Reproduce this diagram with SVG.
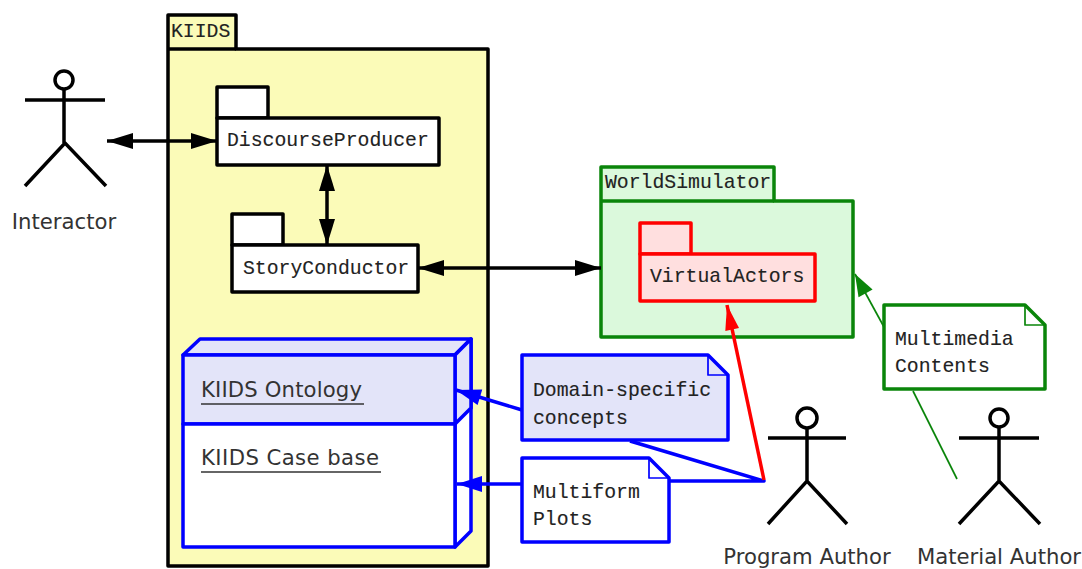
<svg xmlns="http://www.w3.org/2000/svg" width="1082" height="569" viewBox="0 0 1082 569">
<style>
.blk{stroke:#000;stroke-width:3.5;stroke-linejoin:round}
.grn{stroke:#0a850a;stroke-width:3.5;stroke-linejoin:round}
.red{stroke:#f00;stroke-width:3.5;stroke-linejoin:round}
.blu{stroke:#00f;stroke-width:3.5;stroke-linejoin:round}
.thin{stroke-width:1.7}
.mono{font-family:"Liberation Mono",monospace;font-size:19.8px;fill:#222;stroke:#222;stroke-width:.12}
.sans{font-family:"DejaVu Sans",sans-serif;font-size:21.2px;fill:#333}
.c{text-anchor:middle}
.actor{fill:none;stroke:#000;stroke-width:3.5}
</style>
<defs>
<marker id="ab" markerUnits="userSpaceOnUse" markerWidth="28" markerHeight="18" refX="27" refY="9" orient="auto-start-reverse"><path d="M27,9 L1,1 V17 Z" fill="#000"/></marker>
<marker id="ar" markerUnits="userSpaceOnUse" markerWidth="28" markerHeight="18" refX="27" refY="9" orient="auto"><path d="M27,9 L2,2 V16 Z" fill="#f00"/></marker>
<marker id="au" markerUnits="userSpaceOnUse" markerWidth="28" markerHeight="18" refX="27" refY="9" orient="auto"><path d="M27,9 L2,1 V17 Z" fill="#00f"/></marker>
<marker id="ag" markerUnits="userSpaceOnUse" markerWidth="28" markerHeight="18" refX="27" refY="9" orient="auto"><path d="M27,9 L5,1 V17 Z" fill="#0a850a"/></marker>
</defs>
<g id="KIIDS">
<path class="blk" fill="#fbfbb8" d="M168,49 V15 H236 V49 H488 V566 H168 Z"/>
<path class="blk" fill="none" d="M168,49 H236"/>
<text class="mono" x="171" y="37">KIIDS</text>
</g>
<g id="WorldSimulator">
<path class="grn" fill="#dbf9dc" d="M601,201 V167 H774 V201 H853 V337 H601 Z"/>
<path class="grn" fill="none" d="M601,201 H774"/>
<text class="mono" x="605" y="188">WorldSimulator</text>
</g>
<g id="DiscourseProducer">
<rect class="blk" fill="#fff" x="217" y="87" width="51" height="31"/>
<rect class="blk" fill="#fff" x="217" y="118" width="222" height="47"/>
<text class="mono" x="227" y="146">DiscourseProducer</text>
</g>
<g id="StoryConductor">
<rect class="blk" fill="#fff" x="232" y="214" width="51" height="31"/>
<rect class="blk" fill="#fff" x="232" y="245" width="186" height="47"/>
<text class="mono" x="243" y="274">StoryConductor</text>
</g>
<g id="VirtualActors">
<rect class="red" fill="#ffdfdf" x="640" y="223" width="51" height="31"/>
<rect class="red" fill="#ffdfdf" x="640" y="254" width="175" height="47"/>
<text class="mono" x="650" y="282">VirtualActors</text>
</g>
<g id="KIIDSNode">
<path class="blu" fill="#e3e4f9" d="M183,355 L200,339 H471 L455,355 Z"/>
<path class="blu" fill="#fff" d="M455,355 L471,339 V531 L455,547 Z"/>
<path class="blu" fill="#e3e4f9" d="M455,355 L471,339 V408 L455,424 Z"/>
<rect class="blu" fill="#e3e4f9" x="183" y="355" width="272" height="69"/>
<rect class="blu" fill="#fff" x="183" y="424" width="272" height="123"/>
<text class="sans" x="201" y="397" textLength="161">KIIDS Ontology</text>
<path d="M201,404 H364" stroke="#333" stroke-width="1.7"/>
<text class="sans" x="201" y="465" textLength="178">KIIDS Case base</text>
<path d="M201,472 H381" stroke="#333" stroke-width="1.7"/>
</g>
<g id="connectors" fill="none">
<path class="blk" d="M107,141 H217" marker-start="url(#ab)" marker-end="url(#ab)"/>
<path class="blk" d="M327,165 V245" marker-start="url(#ab)" marker-end="url(#ab)"/>
<path class="blk" d="M418,268 H601" marker-start="url(#ab)" marker-end="url(#ab)"/>
<path class="blu" d="M522,410 L456,390" marker-end="url(#au)"/>
<path class="blu" d="M522,484 H457" marker-end="url(#au)"/>
<path class="blu" d="M630,441 L764,481 H669"/>
<path class="red" d="M764,480 L727,305" marker-end="url(#ar)"/>
<path class="grn thin" d="M884,327 L855,274" marker-end="url(#ag)"/>
<path class="grn thin" d="M913,391 L957,479"/>
</g>
<g id="Domain-specific">
<path class="blu" fill="#e3e4f9" d="M522,355 H708 L728,375 V440 H522 Z"/>
<path class="blu thin" fill="none" d="M708,355 V375 H728"/>
<text class="mono" x="533" y="396">Domain-specific</text>
<text class="mono" x="533" y="424">concepts</text>
</g>
<g id="MultiformPlots">
<path class="blu" fill="#fff" d="M522,458 H649 L669,478 V542 H522 Z"/>
<path class="blu thin" fill="none" d="M649,458 V478 H669"/>
<text class="mono" x="533" y="498">Multiform</text>
<text class="mono" x="533" y="525">Plots</text>
</g>
<g id="MultimediaContents">
<path class="grn" fill="#fff" d="M884,305 H1025 L1045,325 V389 H884 Z"/>
<path class="grn thin" fill="none" d="M1025,305 V325 H1045"/>
<text class="mono" x="895" y="345">Multimedia</text>
<text class="mono" x="895" y="372">Contents</text>
</g>
<g id="Interactor">
<circle class="actor" cx="64" cy="80" r="9"/>
<path class="actor" d="M25,100 H105 M64,89 V143 M25,186 L65,143 L106,186"/>
<text class="sans c" x="64" y="229">Interactor</text>
</g>
<g id="ProgramAuthor">
<circle class="actor" cx="807" cy="418" r="10"/>
<path class="actor" d="M768,438 H846 M807,428 V481 M768,524 L807,481 L847,524"/>
<text class="sans c" x="807" y="564">Program Author</text>
</g>
<g id="MaterialAuthor">
<circle class="actor" cx="999" cy="418" r="9"/>
<path class="actor" d="M959,438 H1039 M999,427 V481 M959,524 L999,481 L1040,524"/>
<text class="sans c" x="999" y="564">Material Author</text>
</g>
</svg>
